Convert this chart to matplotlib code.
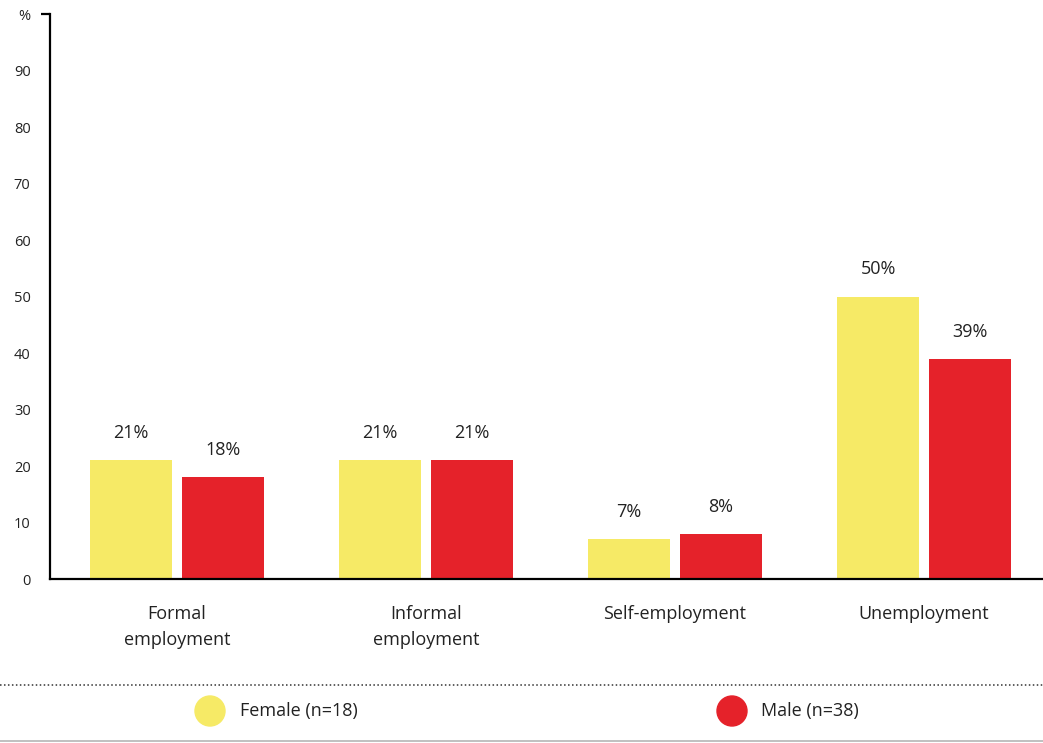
import matplotlib
matplotlib.use("Agg")
import matplotlib.pyplot as plt
from matplotlib.lines import Line2D
from matplotlib.patches import Ellipse
from matplotlib.transforms import blended_transform_factory
import numpy as np

categories = ["Formal\nemployment", "Informal\nemployment", "Self-employment", "Unemployment"]
female = [21, 21, 7, 50]
male = [18, 21, 8, 39]
series_labels = ["Female (n=18)", "Male (n=38)"]
yticks = [0, 10, 20, 30, 40, 50, 60, 70, 80, 90, 100]
ytick_labels = ["0", "10", "20", "30", "40", "50", "60", "70", "80", "90", "%"]

YELLOW = "#F6EA66"
RED = "#E5222A"
TEXT = "#222222"

plt.rcParams["font.family"] = ["Open Sans", "DejaVu Sans"]

fig = plt.figure(figsize=(10.43, 7.43), dpi=100)
ax = fig.add_axes([0.048, 0.2207, 0.952, 0.7604])

x = np.arange(len(categories))
w = 0.329
off = 0.1847
bf = ax.bar(x - off, female, width=w, color=YELLOW, zorder=2)
bm = ax.bar(x + off, male, width=w, color=RED, zorder=2)

for bars, vals in ((bf, female), (bm, male)):
    for b, v in zip(bars, vals):
        ax.text(b.get_x() + b.get_width() / 2, v + 3.2, f"{v}%",
                ha="center", va="bottom", fontsize=13, color=TEXT)

ax.set_xlim(-0.51, 3.478)
ax.set_ylim(0, 100)
ax.set_yticks(yticks)
ax.set_yticklabels(ytick_labels, fontsize=10.5, color=TEXT)
ax.tick_params(axis="y", which="major", length=0, pad=14)
ax.set_xticks(x)
ax.set_xticklabels(categories, fontsize=13, color=TEXT, linespacing=1.55)
ax.tick_params(axis="x", length=0, pad=19)

# short tick marking the top of the percentage scale
trans = blended_transform_factory(ax.transAxes, ax.transData)
ax.add_line(Line2D([-0.0095, 0], [100, 100], transform=trans, color="black",
                   linewidth=1.6, clip_on=False, solid_capstyle="butt"))

for s in ("top", "right"):
    ax.spines[s].set_visible(False)
for s in ("left", "bottom"):
    ax.spines[s].set_linewidth(1.6)
    ax.spines[s].set_color("black")
ax.spines["bottom"].set_zorder(3)

# separator lines and legend beneath the chart
fig.add_artist(Line2D([0, 1], [1 - 685 / 743] * 2, transform=fig.transFigure,
                      color="#333333", linestyle=(0, (1, 1.6)), linewidth=1.1))
fig.add_artist(Line2D([0, 1], [1 - 741 / 743] * 2, transform=fig.transFigure,
                      color="#b5b5b5", linewidth=1.2))

ly = 1 - 711 / 743
for cx, tx, col, lab in ((210, 240, YELLOW, series_labels[0]),
                         (732, 761, RED, series_labels[1])):
    fig.add_artist(Ellipse((cx / 1043, ly), 30 / 1043, 30 / 743,
                           transform=fig.transFigure, color=col))
    fig.text(tx / 1043, ly, lab, ha="left", va="center", fontsize=13, color=TEXT)

fig.savefig("out.png", dpi=100)
